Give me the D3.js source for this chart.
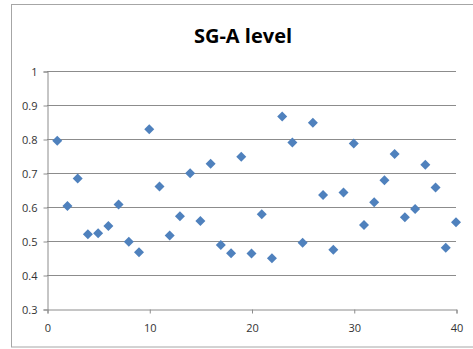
<!DOCTYPE html>
<html>
<head>
<meta charset="utf-8">
<script src="https://cdn.jsdelivr.net/npm/d3@7"></script>
<style>
  html, body { margin: 0; padding: 0; background: #fff; }
  svg { display: block; }
  .tick text { font-family: "Open Sans", "Noto Sans", sans-serif; font-size: 11px; fill: #333; }
</style>
</head>
<body>
<svg id="chart" width="473" height="349"></svg>
<script>
// Sample index and SG-A level readings
const sampleIds = d3.range(1, 41);
const sgaLevels = [
  0.795, 0.603, 0.684, 0.520, 0.523, 0.544, 0.607, 0.498, 0.467, 0.829,
  0.660, 0.516, 0.573, 0.699, 0.559, 0.727, 0.488, 0.464, 0.748, 0.463,
  0.579, 0.449, 0.866, 0.790, 0.495, 0.848, 0.635, 0.474, 0.643, 0.787,
  0.547, 0.614, 0.679, 0.756, 0.570, 0.594, 0.724, 0.657, 0.480, 0.555
];
const xTicks = [0, 10, 20, 30, 40];
const yTicks = [0.3, 0.4, 0.5, 0.6, 0.7, 0.8, 0.9, 1];
const chartTitle = "SG-A level";

const svg = d3.select("#chart");
const plot = { left: 47, right: 456, top: 71, bottom: 309 };

// Outer chart frame
svg.append("rect")
  .attr("x", 11.5).attr("y", 4.5)
  .attr("width", 470).attr("height", 342.5)
  .attr("fill", "none").attr("stroke", "#a6a6a6");

const x = d3.scaleLinear().domain([0, 40]).range([plot.left, plot.right]);
const y = d3.scaleLinear().domain([0.3, 1]).range([plot.bottom, plot.top]);

// Horizontal gridlines
svg.append("g")
  .selectAll("line")
  .data(yTicks.filter(v => v > 0.3))
  .join("line")
  .attr("x1", plot.left).attr("x2", plot.right)
  .attr("y1", d => Math.round(y(d)) + 0.5).attr("y2", d => Math.round(y(d)) + 0.5)
  .attr("stroke", "#8c8c8c");

// Y axis
const yAxis = svg.append("g")
  .attr("transform", `translate(${plot.left + 0.5},0.5)`)
  .call(d3.axisLeft(y).tickValues(yTicks).tickSize(4).tickPadding(6)
    .tickFormat(d => d === 1 ? "1" : d3.format(".1f")(d)));
yAxis.selectAll("path, line").attr("stroke", "#8c8c8c");

// X axis
const xAxis = svg.append("g")
  .attr("transform", `translate(0.5,${plot.bottom + 0.5})`)
  .call(d3.axisBottom(x).tickValues(xTicks).tickSize(4).tickPadding(11)
    .tickFormat(d3.format("d")));
xAxis.selectAll("path, line").attr("stroke", "#8c8c8c");

// Diamond markers (squares turned 45 degrees)
svg.append("g")
  .selectAll("path")
  .data(sampleIds.map((id, i) => ({ id, v: sgaLevels[i] })))
  .join("path")
  .attr("transform", d => `translate(${x(d.id)},${y(d.v)}) rotate(45)`)
  .attr("d", d3.symbol().type(d3.symbolSquare).size(50))
  .attr("fill", "#4f81bd");

// Title
svg.append("text")
  .attr("x", 243).attr("y", 43)
  .attr("text-anchor", "middle")
  .attr("font-family", "'Open Sans', 'Noto Sans', sans-serif")
  .attr("font-weight", "bold")
  .attr("font-size", 20)
  .attr("fill", "#000")
  .text(chartTitle);
</script>
</body>
</html>
